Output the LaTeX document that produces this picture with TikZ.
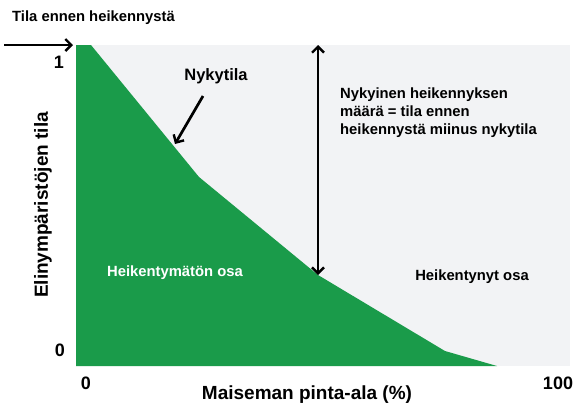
\documentclass[tikz,border=0pt]{standalone}
\usepackage{fontspec}
\setmainfont{Liberation Sans}
\usetikzlibrary{arrows.meta}
\definecolor{alagrey}{RGB}{242,243,245}
\definecolor{alagreen}{RGB}{26,155,74}
\tikzset{
  karki/.tip = {Straight Barb[length=6pt,width=12pt,line width=2.4pt]},
  nuoli/.style = {color=black, line width=2.7pt, -karki},
  teksti/.style = {font=\bfseries\fontsize{14.8}{17.8}\selectfont, inner sep=0pt},
  akseli/.style = {font=\bfseries\fontsize{19}{22}\selectfont, inner sep=0pt},
  luku/.style = {font=\bfseries\fontsize{18}{20}\selectfont, inner sep=0pt}
}
\begin{document}
\begin{tikzpicture}[x=1pt, y=-1pt]
\useasboundingbox (0,0) rectangle (577,405);
\fill [color=alagrey] (76,45) rectangle (570,366);
\fill [color=alagreen] (76,45) -- (91,45) -- (199,177) -- (318,275) -- (445,351) -- (497,366) -- (76,366) -- cycle;
\coordinate (alku) at (4,45);
\coordinate (ylaraja) at (73,45);
\coordinate (katto) at (318,45);
\coordinate (nykypiste) at (318,275);
\coordinate (lahto) at (203,96);
\coordinate (kayra) at (175,144);
\node (ennen) [teksti, anchor=west, at = {(12,18)}] {Tila ennen heikennystä};
\node (yksi) [luku, at = {(59,62)}] {1};
\node (ynolla) [luku, at = {(60,350)}] {0};
\node (xnolla) [luku, at = {(86,383)}] {0};
\node (sata) [luku, at = {(558,383)}] {100};
\node (xotsikko) [akseli, at = {(307,395)}] {Maiseman pinta-ala (\%)};
\node (yotsikko) [akseli, rotate=90, at = {(43,205)}] {Elinympäristöjen tila};
\node (nykytila) [teksti, font=\bfseries\fontsize{16.5}{19}\selectfont, at = {(216,76)}] {Nykytila};
\node (selitys) [teksti, align=left, anchor=north west, at = {(340,88)}] {Nykyinen heikennyksen\\määrä = tila ennen\\heikennystä miinus nykytila};
\node (ehja) [teksti, text=white, at = {(175,273)}] {Heikentymätön osa};
\node (heikko) [teksti, at = {(472,277)}] {Heikentynyt osa};
\draw [nuoli] (alku) -- (ylaraja);
\draw [nuoli, karki-karki] (katto) -- (nykypiste);
\draw [nuoli] (lahto) -- (kayra);
\end{tikzpicture}
\end{document}
